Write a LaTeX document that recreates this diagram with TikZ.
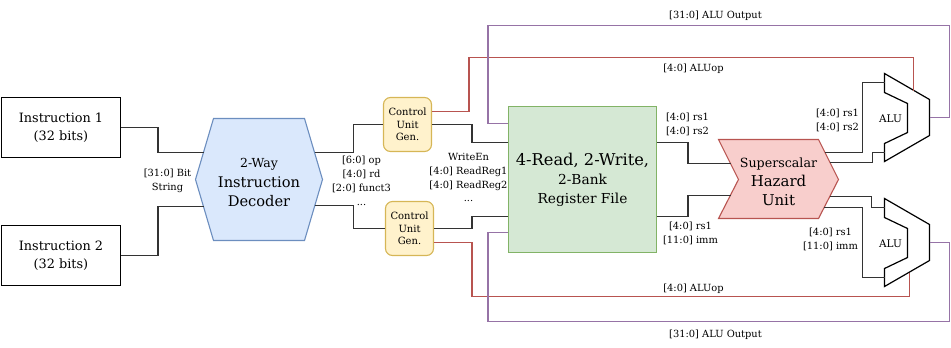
\documentclass[tikz,border=0pt]{standalone}
\usepackage{fontspec}
\setmainfont{DejaVu Serif}
\usetikzlibrary{positioning}

\definecolor{decfill}{HTML}{DAE8FC}
\definecolor{decline}{HTML}{6C8EBF}
\definecolor{ctrlfill}{HTML}{FFF2CC}
\definecolor{ctrlline}{HTML}{D6B656}
\definecolor{rffill}{HTML}{D5E8D4}
\definecolor{rfline}{HTML}{82B366}
\definecolor{hazfill}{HTML}{F8CECC}
\definecolor{hazline}{HTML}{B85450}
\definecolor{opred}{HTML}{B85450}
\definecolor{outpurple}{HTML}{9673A6}

\newcommand{\fsize}[2]{\fontsize{#1}{#2}\selectfont}

\tikzset{
  wire/.style={line width=1.2bp, draw=black!80},
  opwire/.style={line width=1.3bp, draw=opred},
  outwire/.style={line width=1.3bp, draw=outpurple},
  instbox/.style={draw, line width=1.1bp, minimum width=119bp, minimum height=60bp, align=center, font=\fsize{12.9}{18.5}},
  ctrlbox/.style={draw=ctrlline, fill=ctrlfill, line width=1.1bp, rounded corners=7bp, minimum width=48bp, minimum height=54bp, inner sep=0pt, align=center, font=\fsize{10}{12.5}},
  sig/.style={align=center, font=\fsize{9.9}{14}},
}

\begin{document}
\begin{tikzpicture}[x=1bp, y=-1bp]
\useasboundingbox (0,0) rectangle (951,347);
\begin{scope}[shift={(0.5,0.5)}]

% instruction words
\node[instbox] (ins1) at (60.5,127) {Instruction 1\\(32 bits)};
\node[instbox] (ins2) at (60.5,255) {Instruction 2\\(32 bits)};

% decoder
\draw[line width=1.1bp, draw=decline, fill=decfill] (195,179) -- (213,118) -- (304,118) -- (322,179) -- (304,240) -- (213,240) -- cycle;
\node[align=center, font=\fsize{14.7}{19.5}] (dec) at (258.5,182) {{\fsize{12.5}{15}2-Way}\\Instruction\\Decoder};
\coordinate (dec-in1) at (203,152);
\coordinate (dec-in2) at (203,206);
\coordinate (dec-out1) at (314,152);
\coordinate (dec-out2) at (314,205);

\draw[wire] (ins1.east) -- ++(37,0) |- (dec-in1);
\draw[wire] (ins2.east) -- ++(37,0) |- (dec-in2);
\node[sig] (bits) at (167,180) {[31:0] Bit\\String};

% control units
\node[ctrlbox] (cu1) at (407,124) {Control\\Unit\\Gen.};
\node[ctrlbox] (cu2) at (409,228) {Control\\Unit\\Gen.};
\draw[wire] (dec-out1) -- ++(39,0) |- (cu1.west);
\draw[wire] (dec-out2) -- ++(39,0) |- (cu2.west);
\node[sig] (fields) at (361,180) {[6:0] op\\{}[4:0] rd\\{}[2:0] funct3\\...};

% register file
\node[draw=rfline, fill=rffill, line width=1.1bp, minimum width=148bp, minimum height=146bp, align=center, font=\fsize{13.8}{19}] (rf) at (582,179) {{\fsize{16.3}{20}4-Read, 2-Write,}\\2-Bank\\Register File};
\draw[wire] (cu1.east) -- ++(40,0) |- ([yshift=37bp]rf.west);
\draw[wire] (cu2.east) -- ++(38,0) |- ([yshift=-37bp]rf.west);
\node[sig] (ctl) at (468,177) {WriteEn\\{}[4:0] ReadReg1\\{}[4:0] ReadReg2\\...};

% hazard unit
\draw[line width=1.1bp, draw=hazline, fill=hazfill] (718,139) -- (818,139) -- (838,179) -- (818,218) -- (718,218) -- (738,179) -- cycle;
\node[align=center, font=\fsize{15}{19}] (haz) at (778,181) {{\fsize{12.7}{15}Superscalar}\\Hazard\\Unit};
\coordinate (haz-in1) at (730,163);
\coordinate (haz-in2) at (730,195);
\coordinate (haz-o1) at (824.5,152);
\coordinate (haz-o2) at (829.5,162);
\coordinate (haz-o3) at (829,196);
\coordinate (haz-o4) at (823.5,207);

\draw[wire] ([yshift=37bp]rf.east) -- ++(31,0) |- (haz-in1);
\draw[wire] ([yshift=-37bp]rf.east) -- ++(31,0) |- (haz-in2);
\node[sig] (rs-a) at (687,124) {[4:0] rs1\\{}[4:0] rs2};
\node[sig] (imm-a) at (690,233) {[4:0] rs1\\{}[11:0] imm};

% ALUs
\foreach \k/\dy in {1/0,2/125}{
  \begin{scope}[shift={(0,\dy)}]
    \draw[line width=1.2bp] (884,73) -- (929,99) -- (929,135) -- (884,161) -- (884,143) -- (907,132) -- (907,103) -- (884,92) -- cycle;
    \node[font=\fsize{10.5}{12}] (alu\k) at (890,118) {ALU};
    \coordinate (alu\k-a) at (884,82);
    \coordinate (alu\k-b) at (884,152);
    \coordinate (alu\k-out) at (929,117);
  \end{scope}
}
\coordinate (alu1-op) at (913,90);
\coordinate (alu2-op) at (909,272);

\draw[wire] (haz-o1) -- ++(37.5,0) |- (alu1-a);
\draw[wire] (haz-o2) -- ++(42.5,0) |- (alu1-b);
\draw[wire] (haz-o3) -- ++(42,0) |- (alu2-a);
\draw[wire] (haz-o4) -- ++(38.5,0) |- (alu2-b);
\node[sig] (rs-b) at (837,120) {[4:0] rs1\\{}[4:0] rs2};
\node[sig] (imm-b) at (830,239) {[4:0] rs1\\{}[11:0] imm};

% ALUop and result feedback
\draw[opwire] ([yshift=13bp]cu1.east) -- ++(37,0) |- ([yshift=33bp]alu1-op) -- (alu1-op);
\draw[opwire] ([yshift=-14bp]cu2.east) -- ++(38,0) |- ([yshift=-24bp]alu2-op) -- (alu2-op);
\draw[outwire] (alu1-out) -- ++(20,0) -- ++(0,-92) -| ([xshift=-20bp,yshift=56bp]rf.west) -- ([yshift=56bp]rf.west);
\draw[outwire] (alu2-out) -- ++(20,0) -- ++(0,79) -| ([xshift=-20bp,yshift=-53bp]rf.west) -- ([yshift=-53bp]rf.west);

\node[sig] (out-a) at (715,15) {[31:0] ALU Output};
\node[sig] (op-a) at (693,68) {[4:0] ALUop};
\node[sig] (op-b) at (693,288) {[4:0] ALUop};
\node[sig] (out-b) at (715,334) {[31:0] ALU Output};
\end{scope}
\end{tikzpicture}
\end{document}
